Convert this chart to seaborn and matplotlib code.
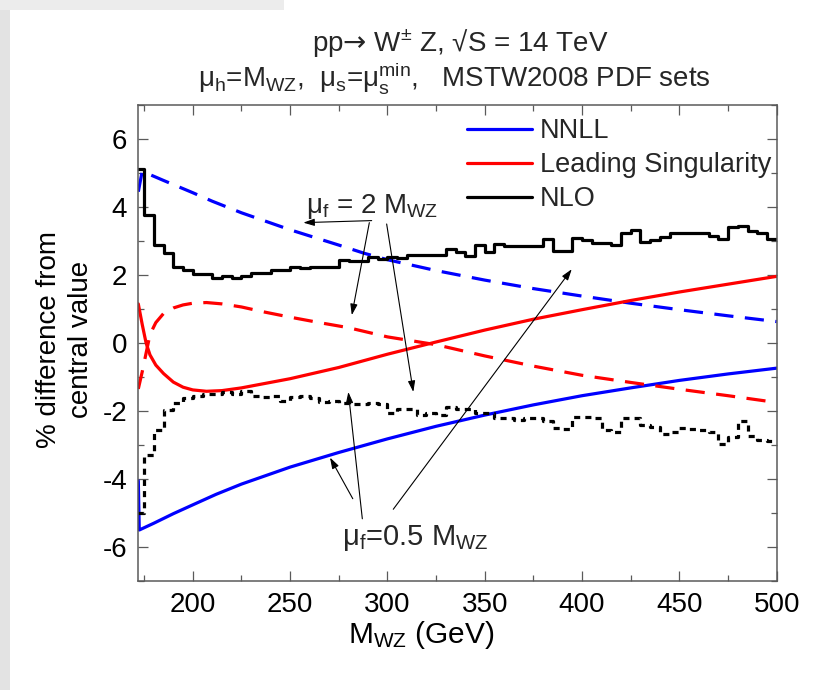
import numpy as np
import pandas as pd
import matplotlib
matplotlib.use("Agg")
import matplotlib.pyplot as plt
from matplotlib.lines import Line2D
from matplotlib.patches import Rectangle
from matplotlib.ticker import MultipleLocator
import seaborn as sns

# ---------------- data ----------------
# NNLL, mu_f = 0.5 M_WZ (solid blue)
nnll_lo_x = [172, 172.5, 180, 190, 200, 212, 225, 250, 275, 300, 325, 350, 375, 400, 425, 450, 475, 500]
nnll_lo_y = [-4.05, -5.5, -5.3, -5.02, -4.76, -4.45, -4.15, -3.65, -3.22, -2.82, -2.45, -2.12, -1.82, -1.55, -1.32, -1.10, -0.91, -0.74]
# NNLL, mu_f = 2 M_WZ (dashed blue)
nnll_hi_x = [172, 174, 185, 200, 210, 225, 250, 275, 288, 300, 325, 350, 375, 400, 425, 450, 475, 500]
nnll_hi_y = [4.45, 5.05, 4.78, 4.42, 4.17, 3.83, 3.33, 2.88, 2.64, 2.45, 2.13, 1.85, 1.60, 1.38, 1.17, 0.98, 0.80, 0.63]
# Leading singularity, mu_f = 0.5 M_WZ (solid red)
ls_lo_x = [172, 174, 176, 178, 181, 185, 190, 195, 200, 207, 215, 225, 250, 275, 300, 325, 350, 375, 400, 425, 450, 475, 500]
ls_lo_y = [1.15, 0.55, 0.0, -0.35, -0.65, -0.90, -1.15, -1.30, -1.38, -1.42, -1.40, -1.32, -1.05, -0.72, -0.33, 0.03, 0.38, 0.70, 0.98, 1.25, 1.50, 1.73, 1.96]
# Leading singularity, mu_f = 2 M_WZ (dashed red)
ls_hi_x = [172, 174, 176, 178, 181, 185, 190, 195, 200, 207, 215, 225, 236, 250, 265, 280, 300, 325, 350, 375, 400, 425, 450, 475, 500]
ls_hi_y = [-1.35, -0.85, -0.30, 0.25, 0.60, 0.87, 1.03, 1.12, 1.17, 1.19, 1.15, 1.06, 0.92, 0.76, 0.60, 0.45, 0.18, -0.05, -0.38, -0.68, -0.95, -1.16, -1.36, -1.55, -1.75]

# NLO histogram bin edges (GeV)
nlo_edges = [172, 175, 180, 185, 190, 195, 200, 205, 210, 215, 220, 225, 230, 235, 240, 245,
             250, 255, 260, 265, 270, 275, 280, 285, 290, 295, 300, 305, 310, 315, 320, 325,
             330, 335, 340, 345, 350, 355, 360, 365, 370, 375, 380, 385, 390, 395, 400, 405,
             410, 415, 420, 425, 430, 435, 440, 445, 450, 455, 460, 465, 470, 475, 480, 485,
             490, 495, 500]
# NLO, mu_f = 2 M_WZ (solid black steps)
nlo_hi = [5.12, 3.77, 2.88, 2.64, 2.25, 2.15, 2.02, 2.02, 1.90, 1.97, 1.90, 1.97, 2.05, 2.05, 2.15, 2.15,
          2.25, 2.20, 2.25, 2.25, 2.25, 2.44, 2.40, 2.40, 2.54, 2.47, 2.54, 2.50, 2.59, 2.59, 2.59, 2.59,
          2.76, 2.69, 2.56, 2.88, 2.69, 2.90, 2.85, 2.85, 2.85, 2.85, 3.05, 2.71, 2.71, 3.08, 3.03, 2.95,
          2.95, 2.88, 3.23, 3.33, 2.98, 3.03, 3.11, 3.23, 3.23, 3.23, 3.23, 3.15, 3.05, 3.42, 3.44, 3.28,
          3.23, 3.05]
# NLO, mu_f = 0.5 M_WZ (dotted black steps)
nlo_lo = [-5.00, -3.30, -2.57, -1.98, -1.75, -1.62, -1.55, -1.50, -1.49, -1.45, -1.49, -1.42, -1.55, -1.58, -1.55, -1.72,
          -1.60, -1.56, -1.62, -1.73, -1.70, -1.76, -1.78, -1.78, -1.76, -1.80, -2.07, -1.93, -1.93, -2.12, -2.07, -2.12,
          -1.88, -1.93, -1.93, -2.07, -2.07, -2.22, -2.22, -2.25, -2.22, -2.22, -2.28, -2.50, -2.52, -2.17, -2.17, -2.22,
          -2.55, -2.62, -2.22, -2.22, -2.42, -2.47, -2.68, -2.62, -2.50, -2.52, -2.55, -2.62, -2.96, -2.76, -2.30, -2.73,
          -2.84, -2.88]

legend_labels = ["NNLL", "Leading Singularity", "NLO"]
x_ticks = [200, 250, 300, 350, 400, 450, 500]
y_ticks = [-6, -4, -2, 0, 2, 4, 6]

# ---------------- styling ----------------
sns.set_theme(style="ticks")
FAM = ['Liberation Sans', 'DejaVu Sans']
plt.rcParams['font.family'] = FAM
plt.rcParams['mathtext.fontset'] = 'custom'
plt.rcParams['mathtext.rm'] = 'Liberation Sans'
plt.rcParams['mathtext.it'] = 'Liberation Sans:italic'
plt.rcParams['mathtext.bf'] = 'Liberation Sans:bold'
plt.rcParams['mathtext.sf'] = 'DejaVu Sans'

BLUE = '#0000ff'
RED = '#ff0000'
SPINE = '#5a5a5a'

W, H = 824, 690
fig = plt.figure(figsize=(W / 100, H / 100), dpi=100)
fig.patch.set_facecolor('white')
fig.patches.append(Rectangle((0, 0), 10 / W, 1, transform=fig.transFigure,
                             facecolor='#e3e3e3', edgecolor='none', zorder=-5))
fig.patches.append(Rectangle((0, 1 - 10 / H), 284 / W, 10 / H, transform=fig.transFigure,
                             facecolor='#ececec', edgecolor='none', zorder=-5))

ax_l, ax_r, ax_t, ax_b = 138.3, 776.7, 105.0, 581.0
ax = fig.add_axes([ax_l / W, 1 - ax_b / H, (ax_r - ax_l) / W, (ax_b - ax_t) / H])
ax.set_facecolor('white')

lw = 2.3
dash = (0, (6, 3.6))
dot = (0, (1.9, 1.6))

sns.lineplot(x=nnll_lo_x, y=nnll_lo_y, ax=ax, color=BLUE, lw=lw, estimator=None, sort=False)
sns.lineplot(x=nnll_hi_x, y=nnll_hi_y, ax=ax, color=BLUE, lw=lw, linestyle=dash, estimator=None, sort=False)
sns.lineplot(x=ls_lo_x, y=ls_lo_y, ax=ax, color=RED, lw=lw, estimator=None, sort=False)
sns.lineplot(x=ls_hi_x, y=ls_hi_y, ax=ax, color=RED, lw=lw, linestyle=dash, estimator=None, sort=False)

step_df = pd.DataFrame({
    'x': nlo_edges,
    'hi': nlo_hi + [nlo_hi[-1]],
    'lo': nlo_lo + [nlo_lo[-1]],
})
sns.lineplot(data=step_df, x='x', y='hi', ax=ax, color='black', lw=lw,
             drawstyle='steps-post', estimator=None, sort=False)
sns.lineplot(data=step_df, x='x', y='lo', ax=ax, color='black', lw=lw, linestyle=dot,
             drawstyle='steps-post', estimator=None, sort=False)

ax.set_xlim(172, 500)
ax.set_ylim(-7, 7)
ax.set_xticks(x_ticks)
ax.set_yticks(y_ticks)
ax.set_yticklabels([str(v) for v in y_ticks])
ax.xaxis.set_minor_locator(MultipleLocator(25))
ax.yaxis.set_minor_locator(MultipleLocator(1))
ax.tick_params(which='both', direction='in', top=True, right=True, color=SPINE,
               width=0.9, labelsize=20, pad=8, labelcolor='black')
ax.tick_params(which='major', length=7.2)
ax.tick_params(which='minor', length=4.3)
for s in ax.spines.values():
    s.set_color(SPINE)
    s.set_linewidth(1.1)

ax.set_xlabel(r'M$_{\rm WZ}$ (GeV)', fontsize=21.5, color='black')
ax.xaxis.set_label_coords(0.444, -0.080)
ax.set_ylabel('% difference from\ncentral value', fontsize=20, color='black', linespacing=1.3)
ax.yaxis.set_label_coords(-0.070, 0.508)

# legend
handles = [Line2D([], [], color=BLUE, lw=lw),
           Line2D([], [], color=RED, lw=lw),
           Line2D([], [], color='black', lw=lw)]
ax.legend(handles, legend_labels, loc='upper left',
          bbox_to_anchor=((467 - ax_l) / (ax_r - ax_l), (ax_b - 118) / (ax_b - ax_t)),
          frameon=False, fontsize=19.5, handlelength=2.4, handletextpad=0.3,
          labelspacing=0.3, borderaxespad=0, borderpad=0)

# annotations
ax.text(292.3, 3.82, r'μ$_{\rm f}$ = 2 M$_{\rm WZ}$', ha='center', va='baseline', fontsize=20)
ax.text(314.1, -5.95, r'μ$_{\rm f}$=0.5 M$_{\rm WZ}$', ha='center', va='baseline', fontsize=21)

arrows = [
    ((291.9, 3.60), (256.8, 3.54)),
    ((290.7, 3.54), (281.7, 0.82)),
    ((299.6, 3.50), (313.3, -1.44)),
    ((282.2, -4.58), (270.5, -3.37)),
    ((287.1, -5.17), (279.9, -1.44)),
    ((303.0, -4.89), (394.7, 2.17)),
]
for tail, head in arrows:
    ax.annotate('', xy=head, xytext=tail,
                arrowprops=dict(arrowstyle='-|>,head_length=0.55,head_width=0.18',
                                color='black', lw=0.8, shrinkA=0, shrinkB=0,
                                mutation_scale=12))

# titles
fig.text(460 / W, 1 - 52 / H, r'pp$\mathsf{→}$ W$^{\pm}$ Z, √S = 14 TeV', ha='center', va='baseline',
         fontsize=20, family=FAM)
fig.text(454.5 / W, 1 - 86 / H,
         r'μ$_{\rm h}$=M$_{\rm WZ}$,  μ$_{\rm s}$=μ$_{\rm s}^{\rm min}$,   MSTW2008 PDF sets',
         ha='center', va='baseline', fontsize=20, family=FAM)

fig.savefig('out.png', dpi=100)
